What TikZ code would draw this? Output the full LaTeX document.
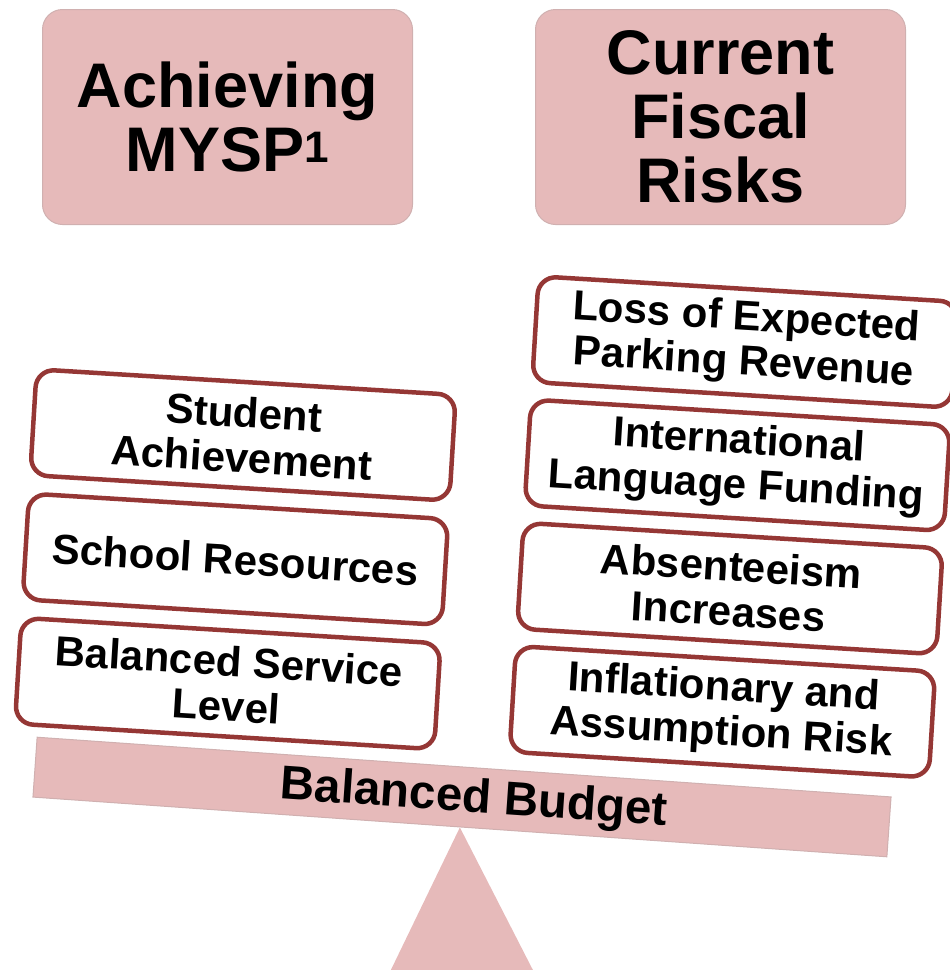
\documentclass[tikz,border=0pt]{standalone}
\usepackage{fontspec}
\setmainfont{Liberation Sans}
\usepackage{tikz}
\usetikzlibrary{positioning}
\pgfdeclarelayer{background layer}
\pgfsetlayers{background layer,main}
\definecolor{scalepink}{RGB}{230,186,186}
\definecolor{scaleedge}{RGB}{208,176,176}
\definecolor{itemred}{RGB}{149,55,53}
\newcommand{\headfont}{\fontsize{63}{64}\selectfont\bfseries}
\newcommand{\itemfont}{\fontsize{42}{45}\selectfont\bfseries}
\newcommand{\beamfont}{\fontsize{47.5}{50}\selectfont\bfseries}

\begin{document}
\begin{tikzpicture}[x=1pt,y=-1pt]
\tikzstyle{headbox}=[draw=scaleedge,line width=1pt,fill=scalepink,rounded corners=20pt,minimum width=370pt,minimum height=215pt,align=center,font=\headfont]
\tikzstyle{itembox}=[draw=itemred,line width=4.5pt,fill=white,rounded corners=18pt,minimum width=420pt,minimum height=106pt,inner sep=0pt,align=center,font=\itemfont]
\tikzstyle{beambox}=[draw=scaleedge,line width=1pt,fill=scalepink,minimum width=856pt,minimum height=60pt,inner sep=0pt]
\useasboundingbox (0,0) rectangle (950,970);
\node [headbox] at (227.5,117) (mysp) {Achieving\\MYSP\textsuperscript{1}};
\node [headbox] at (720.5,117) (risks) {Current\\Fiscal\\Risks};
% left pan
\begin{scope}[shift={(243,435)},rotate=-3.5,transform shape,node distance=124.5pt]
\node [itembox] at (0,0) (goal1) {Student\\Achievement};
\node [itembox,below of=goal1] (goal2) {School Resources};
\node [itembox,below of=goal2] (goal3) {Balanced Service\\Level};
\end{scope}
% right pan
\begin{scope}[shift={(745,342)},rotate=-3.5,transform shape,node distance=123.5pt]
\node [itembox] at (0,0) (risk1) {Loss of Expected\\Parking Revenue};
\node [itembox,below of=risk1] (risk2) {International\\Language Funding};
\node [itembox,below of=risk2] (risk3) {Absenteeism\\Increases};
\node [itembox,below of=risk3] (risk4) {Inflationary and\\Assumption Risk};
\end{scope}
\node [beambox,rotate=-4] at (462,797) (budget) {};
\node [rotate=-4,font=\beamfont] at (474,800) (budgetlabel) {Balanced Budget};
\begin{pgfonlayer}{background layer}
\fill [scalepink] (budget.south) -- (537,978) -- (387,978) -- cycle;
\end{pgfonlayer}
\end{tikzpicture}
\end{document}
